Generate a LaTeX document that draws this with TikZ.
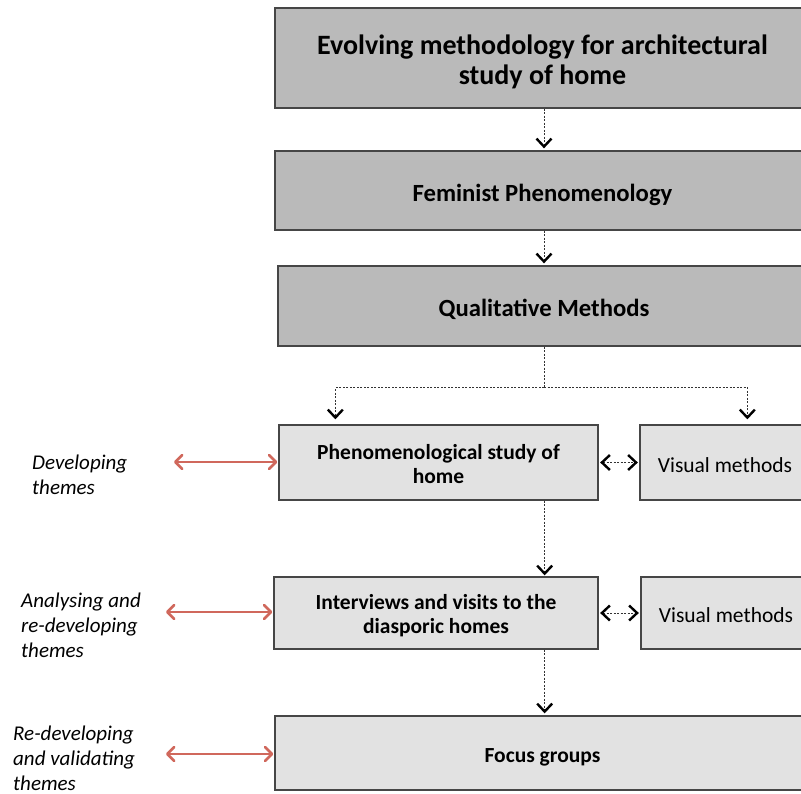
\documentclass[tikz,border=0pt]{standalone}
\usepackage{fontspec}
\setmainfont{Carlito}
\usetikzlibrary{arrows.meta,calc}
\definecolor{darkfill}{RGB}{186,186,186}
\definecolor{lightfill}{RGB}{226,226,226}
\definecolor{boxline}{RGB}{70,70,70}
\definecolor{redline}{RGB}{208,104,92}
\tikzset{
  darkbox/.style={draw=boxline,line width=1.3pt,fill=darkfill,rectangle,inner sep=0pt},
  lightbox/.style={draw=boxline,line width=1.3pt,fill=lightfill,rectangle,inner sep=0pt},
  boxtext/.style={align=center,inner sep=0pt},
  dashline/.style={draw=black!80,line width=0.8pt,dash pattern=on 2pt off 1.5pt},
  blackhead/.style={-{Straight Barb[length=8pt,width=15pt,line width=2.4pt,color=black]}},
  dasharrow/.style={dashline,-{Straight Barb[length=8pt,width=15pt,line width=2.4pt,color=black]}},
  dashboth/.style={dashline,{Straight Barb[length=8pt,width=15pt,line width=2.4pt,color=black]}-{Straight Barb[length=8pt,width=15pt,line width=2.4pt,color=black]}},
  redarrow/.style={draw=redline,line width=2.4pt,{Straight Barb[length=7pt,width=14pt,line width=2.6pt,round]}-{Straight Barb[length=7pt,width=14pt,line width=2.6pt,round]}},
  sidelabel/.style={align=left,inner sep=0pt,anchor=west,font=\fontsize{21}{25}\selectfont\itshape},
  boldtext/.style={font=\fontsize{21.5}{24}\selectfont\bfseries},
}
\begin{document}
\begin{tikzpicture}[x=1pt,y=1pt]
\useasboundingbox (0,0) rectangle (801,-793);
\clip (0,0) rectangle (801,-793);
\fill[white] (0,0) rectangle (801,-793);
% main column
\node[darkbox,minimum width=535pt,minimum height=100pt,
  label={[boxtext,yshift=-4pt,font=\fontsize{28}{30}\selectfont\bfseries]center:Evolving methodology for architectural\\study of home}] (b1) at (542.5,-58) {};
\node[darkbox,minimum width=535pt,minimum height=79pt,
  label={[boxtext,yshift=-4pt,font=\fontsize{24.7}{26}\selectfont\bfseries]center:Feminist Phenomenology}] (b2) at (542.5,-190.5) {};
\node[darkbox,minimum width=532pt,minimum height=80pt,
  label={[boxtext,yshift=-3pt,font=\fontsize{24.7}{26}\selectfont\bfseries]center:Qualitative Methods}] (b3) at (544,-306) {};
\node[lightbox,minimum width=319pt,minimum height=75pt,
  label={[boxtext,yshift=-2pt,boldtext]center:Phenomenological study of\\home}] (b4) at (438.5,-462.5) {};
\node[lightbox,minimum width=170pt,minimum height=75pt,
  label={[boxtext,yshift=-3pt,font=\fontsize{21.5}{24}\selectfont]center:Visual methods}] (b5) at (725,-462.5) {};
\node[lightbox,minimum width=324pt,minimum height=72pt,
  label={[boxtext,yshift=-3pt,boldtext]center:Interviews and visits to the\\diasporic homes}] (b6) at (436,-613) {};
\node[lightbox,minimum width=170pt,minimum height=72pt,
  label={[boxtext,yshift=-2pt,font=\fontsize{21.5}{24}\selectfont]center:Visual methods}] (b7) at (726,-613) {};
\node[lightbox,minimum width=535pt,minimum height=74pt,
  label={[boxtext,yshift=-4pt,boldtext]center:Focus groups}] (b8) at (542.5,-753) {};
% side labels
\node[sidelabel] (l1) at (32,-475) {Developing\\themes};
\node[sidelabel] (l2) at (21,-625) {Analysing and\\re-developing\\themes};
\node[sidelabel] (l3) at (13,-758) {Re-developing\\and validating\\themes};
% connectors
\coordinate (c1) at ($(b1.south)+(1.5,0)$);
\draw[dasharrow,shorten >=2pt] (c1) -- (c1 |- b2.north);
\coordinate (c2) at ($(b2.south)+(1.5,0)$);
\draw[dasharrow,shorten >=2pt] (c2) -- (c2 |- b3.north);
\coordinate (j) at ($(b3.south)+(0,-41)$);
\draw[dashline] (b3.south) -- (j);
\coordinate (t4) at ($(b4.north west)+(57,0)$);
\coordinate (t5) at ($(b5.north west)+(108,0)$);
\draw[dasharrow,shorten >=5pt] (j) -| (t4);
\draw[dasharrow,shorten >=5pt] (j) -| (t5);
\draw[dashboth,shorten <=1.5pt,shorten >=1.5pt] (b4.east) -- (b5.west);
\draw[dashboth,shorten <=1.5pt,shorten >=1.5pt] (b6.east) -- (b7.west);
\coordinate (d4) at ($(b4.south east)+(-54,0)$);
\draw[dasharrow,shorten >=1pt] (d4) -- (d4 |- b6.north);
\coordinate (d6) at ($(b6.south east)+(-54,0)$);
\draw[dasharrow,shorten >=2pt] (d6) -- (d6 |- b8.north);
% red arrows
\coordinate (r1) at (174,-462);
\draw[redarrow,shorten >=1pt] (r1) -- (r1 -| b4.west);
\coordinate (r2) at (166,-612);
\draw[redarrow,shorten >=1pt] (r2) -- (r2 -| b6.west);
\coordinate (r3) at (166,-754);
\draw[redarrow,shorten >=1pt] (r3) -- (r3 -| b8.west);
\end{tikzpicture}
\end{document}
